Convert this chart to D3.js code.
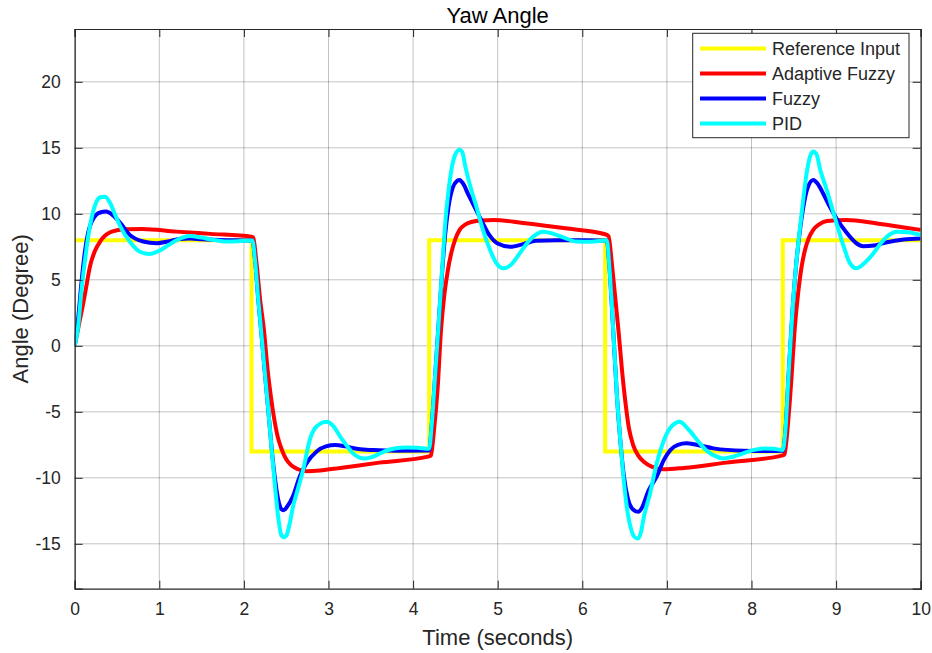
<!DOCTYPE html>
<html><head><meta charset="utf-8">
<script src="https://cdn.jsdelivr.net/npm/d3@7"></script>
<style>body{margin:0;background:#fff}svg{display:block;font-family:"Liberation Sans",Arial,sans-serif}</style>
</head><body><svg id="c" width="932" height="653"></svg>
<script>
const title = "Yaw Angle";
const xLabel = "Time (seconds)";
const yLabel = "Angle (Degree)";
const xTicks = [0,1,2,3,4,5,6,7,8,9,10];
const yTicks = [-15,-10,-5,0,5,10,15,20];
const seriesNames = ["Reference Input","Adaptive Fuzzy","Fuzzy","PID"];
const seriesColors = ["#ffff00","#ff0000","#0000ff","#00ffff"];

const refT = [0, 2.09, 4.19, 6.27, 8.37, 10];
const refV = [8, -8, 8, -8, 8, 8];

const adaptiveT = [0,0.05,0.10,0.14,0.18,0.24,0.30,0.36,0.42,0.50,0.61,0.80,1.2,1.6,2.09,2.11,2.15,2.19,2.24,2.28,2.32,2.36,2.40,2.45,2.50,2.56,2.64,2.74,2.9,3.14,3.6,4.19,4.21,4.25,4.29,4.33,4.37,4.41,4.45,4.50,4.55,4.62,4.70,4.80,4.95,5.3,5.8,6.27,6.31,6.35,6.39,6.43,6.47,6.51,6.55,6.60,6.66,6.73,6.82,6.96,7.2,7.7,8.37,8.39,8.43,8.47,8.51,8.55,8.59,8.63,8.68,8.73,8.80,8.89,9.12,9.5,10];
const adaptiveV = [0,1.6,3.2,4.6,6.0,7.2,7.9,8.35,8.6,8.75,8.83,8.85,8.65,8.48,8.27,8.2,6.2,3.6,1.0,-1.8,-3.9,-5.6,-6.9,-7.9,-8.6,-9.05,-9.35,-9.5,-9.45,-9.25,-8.85,-8.38,-8.3,-6.2,-3.2,1.2,3.9,5.7,7.0,8.1,8.78,9.2,9.4,9.5,9.54,9.3,8.9,8.45,8.3,6.2,3.6,1.0,-1.9,-4.3,-6.2,-7.5,-8.3,-8.8,-9.15,-9.36,-9.25,-8.85,-8.3,-8.2,-6.0,-2.7,1.2,3.9,5.9,7.2,8.2,8.78,9.2,9.45,9.54,9.25,8.78];

const fuzzyT = [0,0.04,0.08,0.12,0.16,0.20,0.25,0.30,0.37,0.45,0.54,0.65,0.81,0.97,1.1,1.24,1.36,1.5,1.72,2.10,2.13,2.17,2.21,2.25,2.29,2.33,2.37,2.41,2.44,2.47,2.51,2.58,2.66,2.74,2.86,2.97,3.08,3.2,3.35,3.53,3.8,4.19,4.22,4.26,4.30,4.34,4.38,4.42,4.47,4.52,4.55,4.59,4.65,4.72,4.80,4.90,5.0,5.15,5.3,5.45,5.7,6.0,6.29,6.32,6.36,6.41,6.45,6.49,6.54,6.60,6.66,6.71,6.78,6.88,6.96,7.04,7.13,7.23,7.35,7.55,7.9,8.2,8.37,8.40,8.44,8.49,8.53,8.57,8.61,8.66,8.73,8.78,8.85,8.92,9.0,9.12,9.24,9.32,9.45,9.6,9.8,10];
const fuzzyV = [0,2.0,4.8,7.1,8.6,9.4,9.9,10.1,10.17,9.9,9.3,8.4,7.9,7.77,7.9,8.1,8.12,8.08,8.02,7.97,6.6,3.5,0.7,-2.2,-5.0,-7.9,-10.2,-11.8,-12.35,-12.45,-12.2,-11.4,-9.9,-8.9,-8.0,-7.62,-7.52,-7.62,-7.82,-7.9,-7.95,-7.93,-6.0,-2.3,1.5,5.3,8.5,10.6,12.0,12.5,12.57,12.3,11.5,10.6,9.6,8.4,7.75,7.5,7.7,7.95,8.0,8.0,7.98,6.0,1.8,-3.86,-7.2,-9.8,-11.6,-12.4,-12.58,-12.2,-11.0,-9.9,-8.7,-7.9,-7.5,-7.39,-7.5,-7.77,-7.95,-7.97,-7.95,-6.5,-2.0,3.2,6.3,8.6,10.4,11.9,12.57,12.3,11.5,10.6,9.7,8.6,7.77,7.55,7.6,7.85,8.05,8.12];

const pidT = [0,0.04,0.08,0.12,0.16,0.20,0.25,0.30,0.36,0.42,0.48,0.54,0.65,0.77,0.88,1.0,1.1,1.21,1.36,1.5,1.6,1.8,2.0,2.10,2.13,2.17,2.21,2.25,2.29,2.33,2.37,2.41,2.44,2.47,2.50,2.54,2.58,2.64,2.70,2.78,2.86,2.98,3.06,3.14,3.22,3.29,3.36,3.43,3.50,3.58,3.65,3.75,3.85,3.92,4.05,4.19,4.22,4.26,4.30,4.34,4.38,4.42,4.46,4.50,4.55,4.58,4.62,4.68,4.75,4.82,4.91,4.98,5.07,5.15,5.26,5.35,5.42,5.54,5.65,5.78,5.93,6.1,6.29,6.32,6.36,6.41,6.45,6.49,6.54,6.58,6.62,6.66,6.69,6.73,6.80,6.88,6.94,7.0,7.07,7.15,7.25,7.39,7.47,7.55,7.67,7.78,7.9,8.02,8.14,8.26,8.37,8.40,8.44,8.49,8.53,8.57,8.61,8.65,8.69,8.73,8.77,8.81,8.89,8.97,9.09,9.16,9.24,9.34,9.44,9.52,9.6,9.72,9.85,10];
const pidV = [0,1.4,4.2,6.4,8.3,9.7,10.8,11.25,11.3,10.8,9.9,9.03,7.9,7.13,6.96,7.2,7.6,8.02,8.32,8.2,8.07,7.9,7.95,7.97,6.6,3.5,0.7,-2.2,-5.0,-8.0,-10.8,-13.2,-14.3,-14.5,-14.4,-13.5,-12.2,-10.8,-9.4,-7.1,-6.1,-5.75,-6.1,-6.9,-7.6,-8.15,-8.45,-8.53,-8.45,-8.25,-8.03,-7.82,-7.72,-7.7,-7.72,-7.8,-6.0,-2.3,1.5,5.5,9.3,11.8,13.6,14.5,14.85,14.7,13.5,12.0,10.5,8.9,7.26,6.3,5.87,6.1,7.0,7.8,8.27,8.65,8.5,8.2,7.9,7.88,8.0,6.0,1.8,-3.86,-7.2,-10.2,-12.8,-13.97,-14.5,-14.6,-14.2,-12.9,-11.2,-8.9,-7.6,-6.63,-6.0,-5.75,-6.3,-7.39,-7.95,-8.28,-8.53,-8.4,-8.15,-7.9,-7.77,-7.8,-7.9,-6.5,-2.0,3.2,6.3,8.78,11.0,13.0,14.3,14.72,14.5,13.4,11.8,10.05,7.51,6.3,5.87,6.3,7.0,7.7,8.27,8.65,8.6,8.4];

const W = 932, H = 653;
const m = {left: 74.7, right: W - 920.7, top: 29, bottom: H - 588.7};
const svg = d3.select("#c");
const x = d3.scaleLinear().domain([0,10]).range([m.left, W - m.right]);
const y = d3.scaleLinear().domain([-18.4,24]).range([H - m.bottom, m.top]);

const g = svg.append("g");
g.append("g").selectAll("line").data(xTicks).join("line")
  .attr("x1", d=>x(d)).attr("x2", d=>x(d)).attr("y1", m.top).attr("y2", H-m.bottom)
  .attr("stroke","#000").attr("stroke-opacity",0.24).attr("stroke-width",1);
g.append("g").selectAll("line").data(yTicks).join("line")
  .attr("y1", d=>y(d)).attr("y2", d=>y(d)).attr("x1", m.left).attr("x2", W-m.right)
  .attr("stroke","#000").attr("stroke-opacity",0.24).attr("stroke-width",1);

svg.append("defs").append("clipPath").attr("id","clip").append("rect")
  .attr("x", m.left).attr("y", m.top).attr("width", W-m.left-m.right).attr("height", H-m.top-m.bottom);

const lineL = d3.line().x(d=>x(d[0])).y(d=>y(d[1])).curve(d3.curveMonotoneX);
const lineStep = d3.line().x(d=>x(d[0])).y(d=>y(d[1])).curve(d3.curveStepAfter);
const zip = (a,b) => a.map((t,i)=>[t,b[i]]);
const plot = svg.append("g").attr("clip-path","url(#clip)");
const lw = 4;
plot.append("path").attr("d", lineStep(zip(refT,refV))).attr("fill","none").attr("stroke",seriesColors[0]).attr("stroke-width",lw);
plot.append("path").attr("d", lineL(zip(adaptiveT,adaptiveV))).attr("fill","none").attr("stroke",seriesColors[1]).attr("stroke-width",lw).attr("stroke-linejoin","round");
plot.append("path").attr("d", lineL(zip(fuzzyT,fuzzyV))).attr("fill","none").attr("stroke",seriesColors[2]).attr("stroke-width",lw).attr("stroke-linejoin","round");
plot.append("path").attr("d", lineL(zip(pidT,pidV))).attr("fill","none").attr("stroke",seriesColors[3]).attr("stroke-width",lw).attr("stroke-linejoin","round");

const axC = "#262626";
const fmt = d => String(d);
const xb = svg.append("g").attr("transform",`translate(0,${H-m.bottom})`).call(d3.axisBottom(x).tickValues(xTicks).tickSize(-8).tickPadding(14).tickFormat(fmt));
const xt = svg.append("g").attr("transform",`translate(0,${m.top})`).call(d3.axisTop(x).tickValues(xTicks).tickSize(-8).tickFormat(""));
const yl = svg.append("g").attr("transform",`translate(${m.left},0)`).call(d3.axisLeft(y).tickValues(yTicks).tickSize(-8).tickPadding(14).tickFormat(fmt));
const yr = svg.append("g").attr("transform",`translate(${W-m.right},0)`).call(d3.axisRight(y).tickValues(yTicks).tickSize(-8).tickFormat(""));
[xb,xt,yl,yr].forEach(a=>{
  a.select(".domain").attr("stroke",axC).attr("stroke-width",1.2);
  a.selectAll(".tick line").attr("stroke",axC);
  a.selectAll("text").attr("fill",axC).attr("font-size",17.5).attr("font-family","Liberation Sans, Arial, sans-serif");
});

svg.append("text").attr("x",(m.left+W-m.right)/2).attr("y",23).attr("text-anchor","middle")
  .attr("font-size",22).attr("fill","#000").text(title);
svg.append("text").attr("x",(m.left+W-m.right)/2).attr("y",645).attr("text-anchor","middle")
  .attr("font-size",22).attr("fill",axC).text(xLabel);
svg.append("text").attr("transform",`translate(28,${(m.top+H-m.bottom)/2}) rotate(-90)`).attr("text-anchor","middle")
  .attr("font-size",22).attr("fill",axC).text(yLabel);

const lg = svg.append("g");
lg.append("rect").attr("x",692.7).attr("y",33.3).attr("width",216.3).attr("height",104.4)
  .attr("fill","#fff").attr("stroke",axC).attr("stroke-width",1);
seriesNames.forEach((n,i)=>{
  const cy = 48.5 + i*25;
  lg.append("line").attr("x1",700).attr("x2",766).attr("y1",cy).attr("y2",cy)
    .attr("stroke",seriesColors[i]).attr("stroke-width",4);
  lg.append("text").attr("x",772).attr("y",cy+6.5).attr("font-size",18).attr("fill",axC).text(n);
});
</script></body></html>
